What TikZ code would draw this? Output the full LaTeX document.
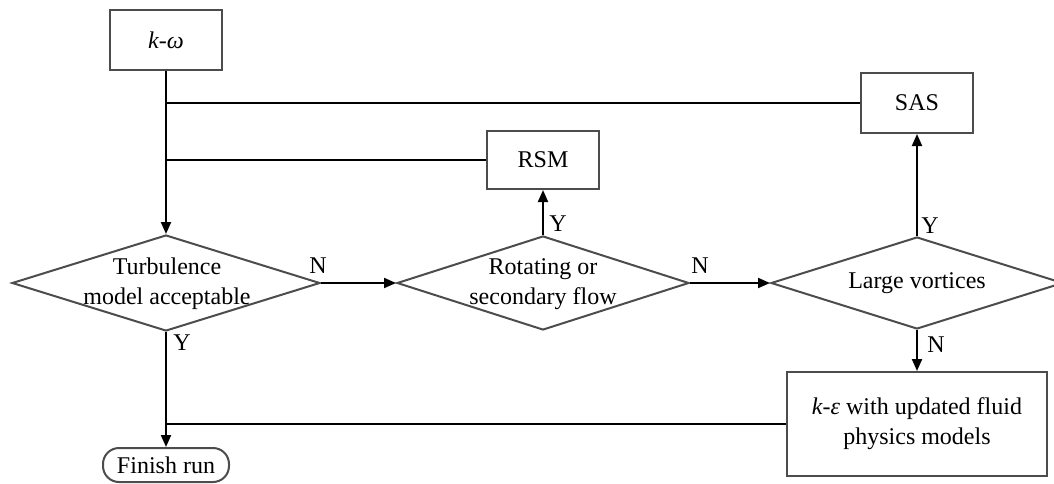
\documentclass[tikz,border=0pt]{standalone}
\usepackage{fontspec}
\setmainfont{Liberation Serif}
\usetikzlibrary{arrows.meta,shapes.geometric}

\begin{document}
\begin{tikzpicture}[x=1pt,y=-1pt,
  every node/.style={font=\fontsize{24}{30}\selectfont, text=black},
  box/.style={draw=black!70, line width=2pt, rectangle, inner sep=0pt},
  decision/.style={draw=black!70, line width=2pt, diamond, inner sep=0pt},
  terminal/.style={draw=black!70, line width=2pt, rectangle, rounded corners=16pt, inner sep=0pt},
  txt/.style={align=center, inner sep=0pt},
  tag/.style={inner sep=0pt},
  flow/.style={line width=2pt, draw=black, -{Triangle[length=12pt,width=10pt]}},
  link/.style={line width=2pt, draw=black}]

\useasboundingbox (0,0) rectangle (1054,483);

% process boxes
\node[box, minimum width=112pt, minimum height=60pt] (kw) at (166,40) {\textit{k-ω}};
\node[box, minimum width=112pt, minimum height=60pt] (sas) at (917,103) {SAS};
\node[box, minimum width=112pt, minimum height=58pt] (rsm) at (543,160) {RSM};
\node[box, minimum width=260pt, minimum height=104pt, align=center] (ke) at (917,424)
  {\textit{k-ε} with updated fluid\\physics models};
\node[terminal, minimum width=126pt, minimum height=34pt] (fin) at (166,465) {Finish run};

% decisions
\node[decision, minimum width=308pt, minimum height=96pt] (d1) at (166,283) {};
\node[txt] (d1t) at (167,284) {Turbulence\\model acceptable};
\node[decision, minimum width=292pt, minimum height=94pt] (d2) at (543,283) {};
\node[txt] (d2t) at (543,284) {Rotating or\\secondary flow};
\node[decision, minimum width=292pt, minimum height=92pt] (d3) at (917,283) {};
\node[txt] (d3t) at (917,283) {Large vortices};

% main trunk and side branches
\draw[flow] (kw.south) -- (d1.north);
\draw[link] (sas.west) -- (sas.west -| kw.south);
\draw[link] (rsm.west) -- (rsm.west -| kw.south);

% decision outcomes
\draw[flow] (d1.east) -- (d2.west);
\draw[flow] (d2.east) -- (d3.west);
\draw[flow] (d2.north) -- (rsm.south);
\draw[flow] (d3.north) -- (sas.south);
\draw[flow] (d3.south) -- (ke.north);
\draw[flow] (d1.south) -- (fin.north);
\draw[link] (ke.west) -- (ke.west -| d1.south);

% branch labels
\node[tag] (n1) at (318,266) {N};
\node[tag] (y1) at (182,343) {Y};
\node[tag] (n2) at (700,266) {N};
\node[tag] (y2) at (558,224) {Y};
\node[tag] (y3) at (930,226) {Y};
\node[tag] (n3) at (936,345) {N};
\end{tikzpicture}
\end{document}
